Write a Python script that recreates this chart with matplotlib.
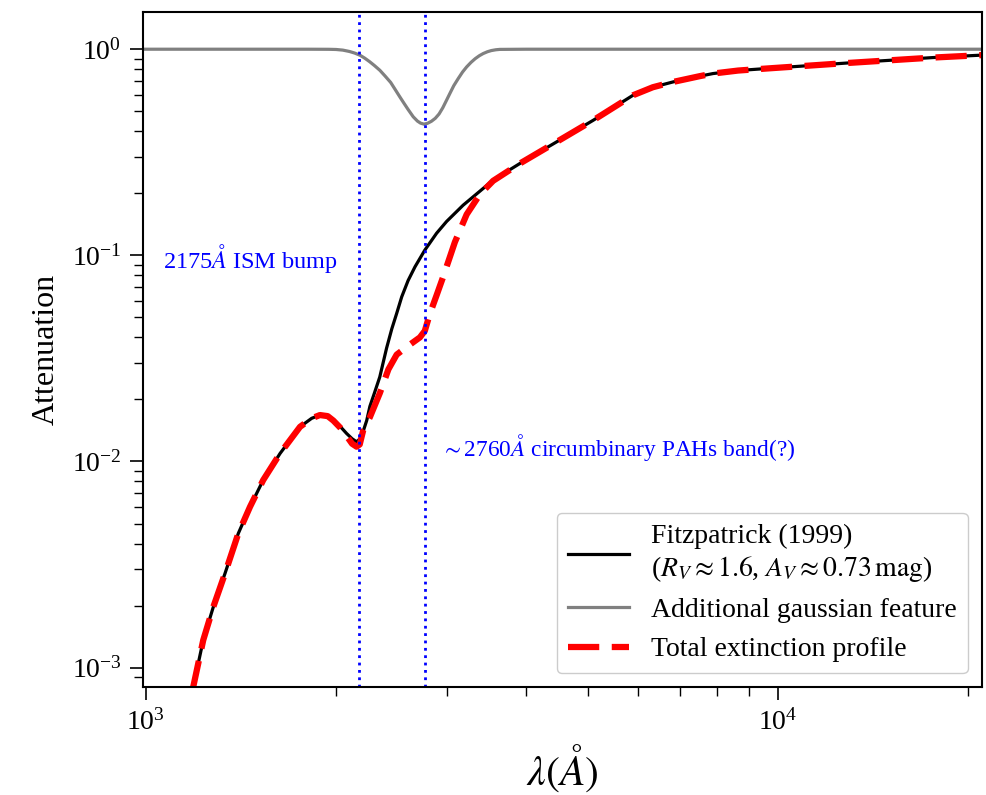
import matplotlib
matplotlib.use('Agg')
import matplotlib.pyplot as plt

plt.rcParams['font.family'] = ['Liberation Serif', 'DejaVu Serif']
plt.rcParams['mathtext.fontset'] = 'stix'

# wavelength (Angstrom) and attenuation
lam_fitz = [1180, 1189, 1233, 1279, 1335, 1401, 1462, 1534, 1631, 1754, 1830,
            1886, 1940, 1980, 2030, 2078, 2120, 2155, 2190, 2236, 2262, 2300,
            2345, 2404, 2450, 2494, 2540, 2600, 2666, 2763, 2884, 2991, 3176,
            3378, 3544, 3906, 4464, 5101, 5898, 6339, 6824, 7518, 7893, 8648,
            9587, 12924, 17580, 20840, 21000]
att_fitz = [7.7e-4, 8.08e-4, 1.36e-3, 1.97e-3, 2.87e-3, 4.48e-3, 6.03e-3,
            8.13e-3, 0.01094, 0.01473, 0.0162, 0.0168, 0.0166, 0.0159, 0.0148,
            0.01368, 0.0129, 0.01246, 0.0130, 0.0158, 0.0185, 0.0215, 0.0257,
            0.0355, 0.044, 0.0523, 0.0629, 0.0755, 0.088, 0.106, 0.128, 0.146,
            0.175, 0.205, 0.232, 0.279, 0.355, 0.452, 0.598, 0.654, 0.694,
            0.740, 0.762, 0.788, 0.806, 0.858, 0.911, 0.935, 0.937]

lam_gauss = [990, 1800, 1950, 2000, 2050, 2100, 2140, 2182, 2220, 2260, 2300,
             2346, 2390, 2440, 2480, 2523, 2560, 2600, 2649, 2690, 2720, 2754,
             2790, 2830, 2870, 2910, 2950, 2990, 3027, 3070, 3120, 3170, 3217,
             3270, 3320, 3370, 3418, 3470, 3520, 3580, 3631, 4000, 21000]
att_gauss = [1.0, 1.0, 0.999, 0.997, 0.99, 0.975, 0.958, 0.935, 0.905, 0.87,
             0.833, 0.79, 0.742, 0.69, 0.638, 0.587, 0.548, 0.51, 0.47, 0.448,
             0.438, 0.433, 0.437, 0.447, 0.462, 0.485, 0.52, 0.565, 0.61, 0.665,
             0.72, 0.775, 0.82, 0.864, 0.90, 0.93, 0.953, 0.972, 0.985, 0.994,
             0.998, 1.0, 1.0]

lam_total = [1180, 1189, 1233, 1279, 1335, 1401, 1462, 1534, 1631, 1754, 1830,
             1886, 1940, 1980, 2030, 2078, 2120, 2155, 2180, 2208, 2262, 2346,
             2420, 2494, 2620, 2714, 2763, 2814, 2884, 2954, 3083, 3218, 3378,
             3544, 3906, 4464, 5101, 5898, 6339, 6824, 7518, 7893, 8648, 9587,
             12924, 17580, 20840, 21000]
att_total = [7.7e-4, 8.08e-4, 1.36e-3, 1.97e-3, 2.87e-3, 4.48e-3, 6.03e-3,
             8.13e-3, 0.01094, 0.01473, 0.0162, 0.0168, 0.0166, 0.0158, 0.0146,
             0.0133, 0.0122, 0.0118, 0.0121, 0.0142, 0.0164, 0.0215, 0.0280,
             0.0330, 0.0370, 0.0400, 0.0430, 0.052, 0.064, 0.0787, 0.116, 0.158,
             0.198, 0.230, 0.279, 0.355, 0.452, 0.598, 0.654, 0.694, 0.740,
             0.762, 0.788, 0.806, 0.858, 0.911, 0.935, 0.937]

bump_lam = 2175
band_lam = 2760

fig = plt.figure(figsize=(9.86, 7.95), dpi=100)
ax = fig.add_axes([0.145, 0.1355, 0.8507, 0.849])

ax.plot(lam_fitz, att_fitz, color='black', lw=2.3,
        label='Fitzpatrick (1999)\n($R_V\\approx 1.6$, $A_V\\approx 0.73\\,\\mathrm{mag}$)')
ax.plot(lam_gauss, att_gauss, color='gray', lw=2.3, label='Additional gaussian feature')
ax.plot(lam_total, att_total, color='red', lw=4.5, dashes=(5, 2),
        label='Total extinction profile')

ax.axvline(bump_lam, color='blue', ls=':', lw=2)
ax.axvline(band_lam, color='blue', ls=':', lw=2)

ax.text(1065, 0.097, '2175$\\AA$ ISM bump', color='blue', fontsize=17.5, va='center')
ax.text(2930, 0.0117, '$\\sim$2760$\\AA$ circumbinary PAHs band(?)', color='blue',
        fontsize=16.8, va='center')

ax.set_xscale('log')
ax.set_yscale('log')
ax.set_xlim(990, 21000)
ax.set_ylim(8.03e-4, 1.51)

ax.set_xlabel('$\\lambda(\\AA)$', fontsize=30, labelpad=5)
ax.set_ylabel('Attenuation', fontsize=23, labelpad=8)
ax.tick_params(which='major', labelsize=20, length=9.5, width=1.2, pad=6)
ax.tick_params(which='minor', length=6.5, width=1.0)
for s in ax.spines.values():
    s.set_linewidth(1.5)

ax.legend(loc='lower right', fontsize=20, handlelength=2.2, framealpha=1)

fig.savefig('out.png', dpi=100)
